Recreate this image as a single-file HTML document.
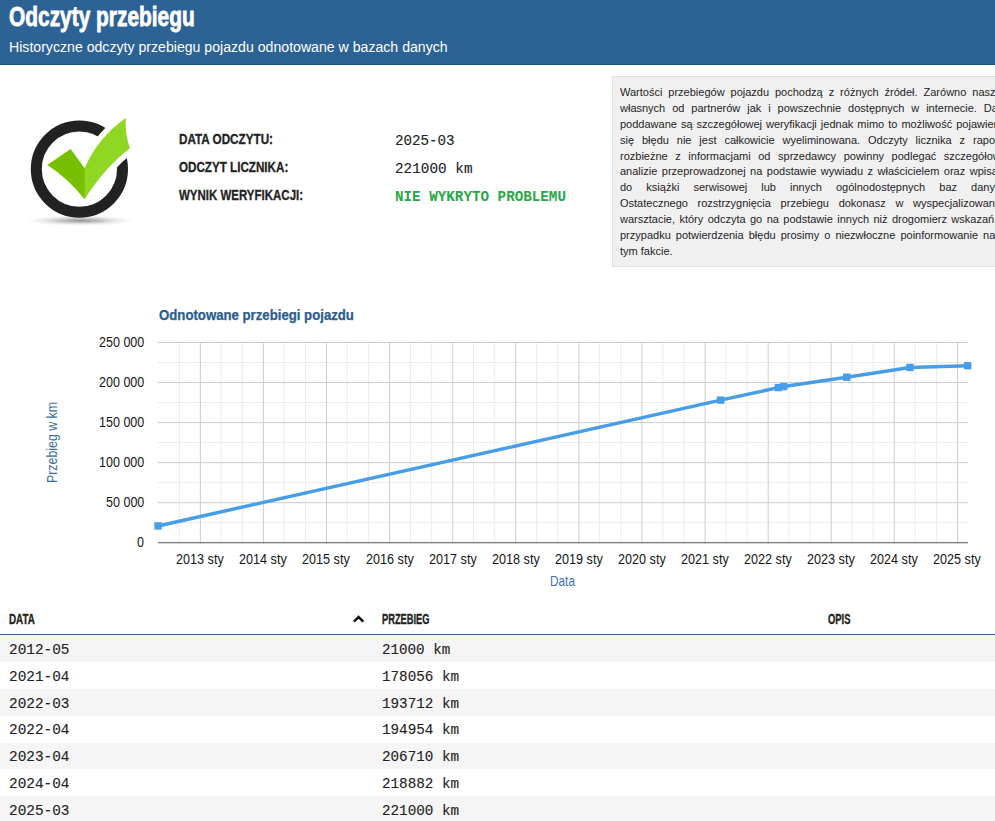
<!DOCTYPE html>
<html lang="pl"><head><meta charset="utf-8"><title>Odczyty przebiegu</title>
<style>
html,body{margin:0;padding:0;background:#fff;}
body{width:995px;height:821px;overflow:hidden;position:relative;font-family:'Liberation Sans',sans-serif;}
.t{position:absolute;white-space:pre;line-height:20px;transform-origin:0 0;}
.hdr{position:absolute;left:0;top:0;width:995px;height:64px;background:#2d6294;border-bottom:1px solid #1f4f7f;}
.box{position:absolute;left:612px;top:76px;width:520px;height:189px;background:#f0f0f0;border:1px solid #dfe1e8;}
.bl{position:absolute;white-space:pre;font-size:11px;line-height:16px;color:#1e1e1e;left:620px;}
.row{position:absolute;left:0;width:995px;background:#f5f5f5;}
svg{position:absolute;left:0;top:0;}
</style></head><body>
<div class="hdr"></div>
<div class="row" style="top:635.00px;height:26.9px"></div>
<div class="row" style="top:688.80px;height:26.9px"></div>
<div class="row" style="top:742.60px;height:26.9px"></div>
<div class="row" style="top:796.40px;height:26.9px"></div>
<div style="position:absolute;left:0;top:634px;width:995px;height:1px;background:#2d6294"></div>
<div class="box"></div>
<svg width="995" height="821" viewBox="0 0 995 821">
<defs><radialGradient id="sh" cx="50%" cy="50%" r="50%"><stop offset="0" stop-color="#000" stop-opacity="0.42"/><stop offset="0.3" stop-color="#000" stop-opacity="0.27"/><stop offset="0.65" stop-color="#000" stop-opacity="0.09"/><stop offset="1" stop-color="#000" stop-opacity="0"/></radialGradient></defs>
<ellipse cx="80.5" cy="220.6" rx="54" ry="5.2" fill="url(#sh)"/>
<circle cx="79.4" cy="169.1" r="43.1" fill="none" stroke="#222" stroke-width="11"/>
<path d="M84.6,168.3 Q97.6,138 125.7,118 Q125,135 130,148.3 Q105.6,166.6 84.6,199.2 Z" fill="#fff" stroke="#fff" stroke-width="11" stroke-linejoin="round"/>
<path d="M47.2,164.9 L70.7,149 L84.6,168.3 L86,168.3 L86,197 L84.6,199.2 Q68,178 47.2,164.9 Z" fill="#76c000"/>
<path d="M84.6,168.3 Q97.6,138 125.7,118 Q125,135 130,148.3 Q105.6,166.6 84.6,199.2 Z" fill="#8fd722"/>
<rect x="178.79" y="342" width="1" height="201.5" fill="#ebebeb"/>
<rect x="220.59" y="342" width="1" height="201.5" fill="#ebebeb"/>
<rect x="241.84" y="342" width="1" height="201.5" fill="#ebebeb"/>
<rect x="283.64" y="342" width="1" height="201.5" fill="#ebebeb"/>
<rect x="304.89" y="342" width="1" height="201.5" fill="#ebebeb"/>
<rect x="346.69" y="342" width="1" height="201.5" fill="#ebebeb"/>
<rect x="367.94" y="342" width="1" height="201.5" fill="#ebebeb"/>
<rect x="409.91" y="342" width="1" height="201.5" fill="#ebebeb"/>
<rect x="431.16" y="342" width="1" height="201.5" fill="#ebebeb"/>
<rect x="472.96" y="342" width="1" height="201.5" fill="#ebebeb"/>
<rect x="494.21" y="342" width="1" height="201.5" fill="#ebebeb"/>
<rect x="536.01" y="342" width="1" height="201.5" fill="#ebebeb"/>
<rect x="557.26" y="342" width="1" height="201.5" fill="#ebebeb"/>
<rect x="599.06" y="342" width="1" height="201.5" fill="#ebebeb"/>
<rect x="620.31" y="342" width="1" height="201.5" fill="#ebebeb"/>
<rect x="662.29" y="342" width="1" height="201.5" fill="#ebebeb"/>
<rect x="683.53" y="342" width="1" height="201.5" fill="#ebebeb"/>
<rect x="725.34" y="342" width="1" height="201.5" fill="#ebebeb"/>
<rect x="746.58" y="342" width="1" height="201.5" fill="#ebebeb"/>
<rect x="788.39" y="342" width="1" height="201.5" fill="#ebebeb"/>
<rect x="809.63" y="342" width="1" height="201.5" fill="#ebebeb"/>
<rect x="851.44" y="342" width="1" height="201.5" fill="#ebebeb"/>
<rect x="872.68" y="342" width="1" height="201.5" fill="#ebebeb"/>
<rect x="914.66" y="342" width="1" height="201.5" fill="#ebebeb"/>
<rect x="935.91" y="342" width="1" height="201.5" fill="#ebebeb"/>
<rect x="158" y="522.23" width="810" height="1" fill="#ebebeb"/>
<rect x="158" y="482.18" width="810" height="1" fill="#ebebeb"/>
<rect x="158" y="442.12" width="810" height="1" fill="#ebebeb"/>
<rect x="158" y="402.08" width="810" height="1" fill="#ebebeb"/>
<rect x="158" y="362.03" width="810" height="1" fill="#ebebeb"/>
<rect x="199.86" y="342" width="1" height="201.5" fill="#cccccc"/>
<rect x="262.91" y="342" width="1" height="201.5" fill="#cccccc"/>
<rect x="325.96" y="342" width="1" height="201.5" fill="#cccccc"/>
<rect x="389.01" y="342" width="1" height="201.5" fill="#cccccc"/>
<rect x="452.23" y="342" width="1" height="201.5" fill="#cccccc"/>
<rect x="515.28" y="342" width="1" height="201.5" fill="#cccccc"/>
<rect x="578.33" y="342" width="1" height="201.5" fill="#cccccc"/>
<rect x="641.38" y="342" width="1" height="201.5" fill="#cccccc"/>
<rect x="704.61" y="342" width="1" height="201.5" fill="#cccccc"/>
<rect x="767.66" y="342" width="1" height="201.5" fill="#cccccc"/>
<rect x="830.71" y="342" width="1" height="201.5" fill="#cccccc"/>
<rect x="893.76" y="342" width="1" height="201.5" fill="#cccccc"/>
<rect x="956.98" y="342" width="1" height="201.5" fill="#cccccc"/>
<rect x="158" y="502.20" width="810" height="1" fill="#cccccc"/>
<rect x="158" y="462.15" width="810" height="1" fill="#cccccc"/>
<rect x="158" y="422.10" width="810" height="1" fill="#cccccc"/>
<rect x="158" y="382.05" width="810" height="1" fill="#cccccc"/>
<rect x="158" y="342.00" width="810" height="1" fill="#cccccc"/>
<rect x="158" y="542.25" width="810" height="1" fill="#555"/>
<polyline fill="none" stroke="#489de8" stroke-width="3.5" stroke-linejoin="round" points="158.04,525.93 720.65,400.13 778.35,387.59 783.70,386.59 846.75,377.18 909.98,367.43 967.67,365.73"/>
<rect x="154.34" y="522.23" width="7.4" height="7.4" fill="#489de8"/>
<rect x="716.95" y="396.43" width="7.4" height="7.4" fill="#489de8"/>
<rect x="774.65" y="383.89" width="7.4" height="7.4" fill="#489de8"/>
<rect x="780.00" y="382.89" width="7.4" height="7.4" fill="#489de8"/>
<rect x="843.05" y="373.48" width="7.4" height="7.4" fill="#489de8"/>
<rect x="906.28" y="363.73" width="7.4" height="7.4" fill="#489de8"/>
<rect x="963.97" y="362.03" width="7.4" height="7.4" fill="#489de8"/>
<path d="M353.9,621.6 L358.6,617.0 L363.3,621.6" fill="none" stroke="#111" stroke-width="2.5" stroke-linecap="butt" stroke-linejoin="miter"/>
</svg>
<div class="t" style="left:9.35px;top:6.6px;font-family:'Liberation Sans',sans-serif;font-weight:bold;font-size:28px;color:#fff;transform:scaleX(0.7462);-webkit-text-stroke:0.8px;">Odczyty przebiegu</div>
<div class="t" style="left:9.09px;top:37px;font-family:'Liberation Sans',sans-serif;font-weight:normal;font-size:14px;color:#fff;transform:scaleX(1.0083);">Historyczne odczyty przebiegu pojazdu odnotowane w bazach danych</div>
<div class="t" style="left:178.66px;top:129px;font-family:'Liberation Sans',sans-serif;font-weight:bold;font-size:14px;color:#222;transform:scaleX(0.8355);-webkit-text-stroke:0.3px;">DATA ODCZYTU:</div>
<div class="t" style="left:178.90px;top:157px;font-family:'Liberation Sans',sans-serif;font-weight:bold;font-size:14px;color:#222;transform:scaleX(0.8315);-webkit-text-stroke:0.3px;">ODCZYT LICZNIKA:</div>
<div class="t" style="left:178.90px;top:185px;font-family:'Liberation Sans',sans-serif;font-weight:bold;font-size:14px;color:#222;transform:scaleX(0.8207);-webkit-text-stroke:0.3px;">WYNIK WERYFIKACJI:</div>
<div class="t" style="left:394.59px;top:131px;font-family:'Liberation Mono',monospace;font-weight:normal;font-size:14px;color:#222;transform:scaleX(1.0140);-webkit-text-stroke:0.12px;">2025-03</div>
<div class="t" style="left:394.57px;top:159px;font-family:'Liberation Mono',monospace;font-weight:normal;font-size:14px;color:#222;transform:scaleX(1.0257);-webkit-text-stroke:0.12px;">221000 km</div>
<div class="t" style="left:394.58px;top:187px;font-family:'Liberation Mono',monospace;font-weight:bold;font-size:14px;color:#28a745;transform:scaleX(1.0175);">NIE WYKRYTO PROBLEMU</div>
<div class="t" style="left:159.10px;top:305px;font-family:'Liberation Sans',sans-serif;font-weight:bold;font-size:14px;color:#2a5c8f;transform:scaleX(0.9422);-webkit-text-stroke:0.25px;">Odnotowane przebiegi pojazdu</div>
<div class="t" style="left:137.13px;top:532px;font-family:'Liberation Sans',sans-serif;font-weight:normal;font-size:14px;color:#151515;transform:scaleX(0.8950);">0</div>
<div class="t" style="left:105.81px;top:492px;font-family:'Liberation Sans',sans-serif;font-weight:normal;font-size:14px;color:#151515;transform:scaleX(0.8950);">50 000</div>
<div class="t" style="left:98.65px;top:452px;font-family:'Liberation Sans',sans-serif;font-weight:normal;font-size:14px;color:#151515;transform:scaleX(0.8950);">100 000</div>
<div class="t" style="left:98.65px;top:412px;font-family:'Liberation Sans',sans-serif;font-weight:normal;font-size:14px;color:#151515;transform:scaleX(0.8950);">150 000</div>
<div class="t" style="left:98.65px;top:372px;font-family:'Liberation Sans',sans-serif;font-weight:normal;font-size:14px;color:#151515;transform:scaleX(0.8950);">200 000</div>
<div class="t" style="left:98.65px;top:332px;font-family:'Liberation Sans',sans-serif;font-weight:normal;font-size:14px;color:#151515;transform:scaleX(0.8950);">250 000</div>
<div class="t" style="left:176.36px;top:549px;font-family:'Liberation Sans',sans-serif;font-weight:normal;font-size:14px;color:#151515;transform:scaleX(0.9019);">2013 sty</div>
<div class="t" style="left:239.41px;top:549px;font-family:'Liberation Sans',sans-serif;font-weight:normal;font-size:14px;color:#151515;transform:scaleX(0.9019);">2014 sty</div>
<div class="t" style="left:302.46px;top:549px;font-family:'Liberation Sans',sans-serif;font-weight:normal;font-size:14px;color:#151515;transform:scaleX(0.9019);">2015 sty</div>
<div class="t" style="left:365.51px;top:549px;font-family:'Liberation Sans',sans-serif;font-weight:normal;font-size:14px;color:#151515;transform:scaleX(0.9019);">2016 sty</div>
<div class="t" style="left:428.73px;top:549px;font-family:'Liberation Sans',sans-serif;font-weight:normal;font-size:14px;color:#151515;transform:scaleX(0.9019);">2017 sty</div>
<div class="t" style="left:491.78px;top:549px;font-family:'Liberation Sans',sans-serif;font-weight:normal;font-size:14px;color:#151515;transform:scaleX(0.9019);">2018 sty</div>
<div class="t" style="left:554.83px;top:549px;font-family:'Liberation Sans',sans-serif;font-weight:normal;font-size:14px;color:#151515;transform:scaleX(0.9019);">2019 sty</div>
<div class="t" style="left:617.88px;top:549px;font-family:'Liberation Sans',sans-serif;font-weight:normal;font-size:14px;color:#151515;transform:scaleX(0.9019);">2020 sty</div>
<div class="t" style="left:681.11px;top:549px;font-family:'Liberation Sans',sans-serif;font-weight:normal;font-size:14px;color:#151515;transform:scaleX(0.9019);">2021 sty</div>
<div class="t" style="left:744.16px;top:549px;font-family:'Liberation Sans',sans-serif;font-weight:normal;font-size:14px;color:#151515;transform:scaleX(0.9019);">2022 sty</div>
<div class="t" style="left:807.21px;top:549px;font-family:'Liberation Sans',sans-serif;font-weight:normal;font-size:14px;color:#151515;transform:scaleX(0.9019);">2023 sty</div>
<div class="t" style="left:870.26px;top:549px;font-family:'Liberation Sans',sans-serif;font-weight:normal;font-size:14px;color:#151515;transform:scaleX(0.9019);">2024 sty</div>
<div class="t" style="left:933.48px;top:549px;font-family:'Liberation Sans',sans-serif;font-weight:normal;font-size:14px;color:#151515;transform:scaleX(0.9019);">2025 sty</div>
<div class="t" style="left:549.96px;top:571px;font-family:'Liberation Sans',sans-serif;font-weight:normal;font-size:14px;color:#3f72aa;transform:scaleX(0.8448);">Data</div>
<div class="t" style="left:41.60px;top:483.28px;font-family:'Liberation Sans',sans-serif;font-weight:normal;font-size:14px;color:#3b6ea5;transform:rotate(-90deg) scaleX(0.8822);">Przebieg w km</div>
<div class="t" style="left:8.90px;top:608.9px;font-family:'Liberation Sans',sans-serif;font-weight:bold;font-size:14px;color:#222;transform:scaleX(0.7000);-webkit-text-stroke:0.35px;">DATA</div>
<div class="t" style="left:381.94px;top:608.9px;font-family:'Liberation Sans',sans-serif;font-weight:bold;font-size:14px;color:#222;transform:scaleX(0.6629);-webkit-text-stroke:0.35px;">PRZEBIEG</div>
<div class="t" style="left:827.60px;top:608.9px;font-family:'Liberation Sans',sans-serif;font-weight:bold;font-size:14px;color:#222;transform:scaleX(0.6697);-webkit-text-stroke:0.35px;">OPIS</div>
<div class="t" style="left:8.57px;top:640px;font-family:'Liberation Mono',monospace;font-weight:normal;font-size:14px;color:#222;transform:scaleX(1.0281);-webkit-text-stroke:0.12px;">2012-05</div>
<div class="t" style="left:381.58px;top:640px;font-family:'Liberation Mono',monospace;font-weight:normal;font-size:14px;color:#222;transform:scaleX(1.0152);-webkit-text-stroke:0.12px;">21000 km</div>
<div class="t" style="left:8.57px;top:667px;font-family:'Liberation Mono',monospace;font-weight:normal;font-size:14px;color:#222;transform:scaleX(1.0281);-webkit-text-stroke:0.12px;">2021-04</div>
<div class="t" style="left:381.58px;top:667px;font-family:'Liberation Mono',monospace;font-weight:normal;font-size:14px;color:#222;transform:scaleX(1.0189);-webkit-text-stroke:0.12px;">178056 km</div>
<div class="t" style="left:8.57px;top:694px;font-family:'Liberation Mono',monospace;font-weight:normal;font-size:14px;color:#222;transform:scaleX(1.0281);-webkit-text-stroke:0.12px;">2022-03</div>
<div class="t" style="left:381.58px;top:694px;font-family:'Liberation Mono',monospace;font-weight:normal;font-size:14px;color:#222;transform:scaleX(1.0189);-webkit-text-stroke:0.12px;">193712 km</div>
<div class="t" style="left:8.57px;top:720px;font-family:'Liberation Mono',monospace;font-weight:normal;font-size:14px;color:#222;transform:scaleX(1.0281);-webkit-text-stroke:0.12px;">2022-04</div>
<div class="t" style="left:381.58px;top:720px;font-family:'Liberation Mono',monospace;font-weight:normal;font-size:14px;color:#222;transform:scaleX(1.0189);-webkit-text-stroke:0.12px;">194954 km</div>
<div class="t" style="left:8.57px;top:747px;font-family:'Liberation Mono',monospace;font-weight:normal;font-size:14px;color:#222;transform:scaleX(1.0281);-webkit-text-stroke:0.12px;">2023-04</div>
<div class="t" style="left:381.58px;top:747px;font-family:'Liberation Mono',monospace;font-weight:normal;font-size:14px;color:#222;transform:scaleX(1.0189);-webkit-text-stroke:0.12px;">206710 km</div>
<div class="t" style="left:8.57px;top:774px;font-family:'Liberation Mono',monospace;font-weight:normal;font-size:14px;color:#222;transform:scaleX(1.0281);-webkit-text-stroke:0.12px;">2024-04</div>
<div class="t" style="left:381.58px;top:774px;font-family:'Liberation Mono',monospace;font-weight:normal;font-size:14px;color:#222;transform:scaleX(1.0189);-webkit-text-stroke:0.12px;">218882 km</div>
<div class="t" style="left:8.57px;top:801px;font-family:'Liberation Mono',monospace;font-weight:normal;font-size:14px;color:#222;transform:scaleX(1.0281);-webkit-text-stroke:0.12px;">2025-03</div>
<div class="t" style="left:381.58px;top:801px;font-family:'Liberation Mono',monospace;font-weight:normal;font-size:14px;color:#222;transform:scaleX(1.0189);-webkit-text-stroke:0.12px;">221000 km</div>
<div class="bl" style="top:84px;word-spacing:2.892px;letter-spacing:0.000px">Wartości przebiegów pojazdu pochodzą z różnych źródeł. Zarówno naszych danych</div>
<div class="bl" style="top:100px;word-spacing:3.879px;letter-spacing:0.000px">własnych od partnerów jak i powszechnie dostępnych w internecie. Dane te</div>
<div class="bl" style="top:116px;word-spacing:0.989px;letter-spacing:0.000px">poddawane są szczegółowej weryfikacji jednak mimo to możliwość pojawienia</div>
<div class="bl" style="top:132px;word-spacing:4.850px;letter-spacing:0.000px">się błędu nie jest całkowicie wyeliminowana. Odczyty licznika z raportu</div>
<div class="bl" style="top:148px;word-spacing:4.511px;letter-spacing:0.000px">rozbieżne z informacjami od sprzedawcy powinny podlegać szczegółowej</div>
<div class="bl" style="top:163px;word-spacing:1.451px;letter-spacing:0.000px">analizie przeprowadzonej na podstawie wywiadu z właścicielem oraz wpisanych</div>
<div class="bl" style="top:179px;word-spacing:11.026px;letter-spacing:0.000px">do książki serwisowej lub innych ogólnodostępnych baz danych.</div>
<div class="bl" style="top:195px;word-spacing:6.637px;letter-spacing:0.000px">Ostatecznego rozstrzygnięcia przebiegu dokonasz w wyspecjalizowanym</div>
<div class="bl" style="top:211px;word-spacing:1.357px;letter-spacing:0.000px">warsztacie, który odczyta go na podstawie innych niż drogomierz wskazań. W</div>
<div class="bl" style="top:227px;word-spacing:1.995px;letter-spacing:0.000px">przypadku potwierdzenia błędu prosimy o niezwłoczne poinformowanie nas o</div>
<div class="bl" style="top:243px;word-spacing:0.000px;letter-spacing:0.000px">tym fakcie.</div>
</body></html>
